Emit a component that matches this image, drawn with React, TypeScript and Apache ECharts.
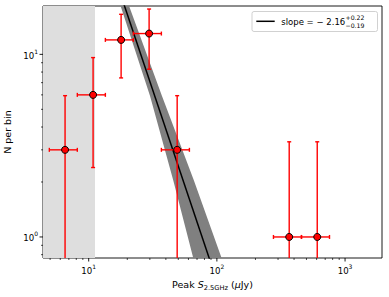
import React, { useEffect, useRef } from 'react';
import * as echarts from 'echarts';

// ---- data ----
const binCenters = [6.54, 10.82, 17.9, 29.6, 49.0, 366.7, 606.7];
const binLow = [4.93, 8.15, 13.49, 22.3, 36.9, 276.3, 457.1];
const binHigh = [8.15, 13.49, 22.3, 36.9, 61.04, 457.1, 756.2];
const counts = [3, 6, 12, 13, 3, 1, 1];
const countHigh = [5.94, 9.6, 16.57, 17.71, 5.94, 3.32, 3.32];
// lower bounds that fall below the axis (≤ 0 for N = 1) are kept as tiny positive values
const countLow = [0.064, 2.4, 7.43, 8.29, 0.064, 0.001, 0.001];

const completenessLimit = 11.2; // shaded region up to this flux

// drawn fit line
const fitSlope = -2.09;
const fitNorm = 70.6; // N per bin at 10 µJy
const fitRange = [12, 150];

// uncertainty band edges (steep / shallow sides)
const bandSteepX = [14.16, 17.74, 30.1, 45.71, 65.4, 75.7];
const bandSteepY = [28.9, 18.38, 5.91, 2.04, 0.767, 0.513];
const bandShallowX = [15.96, 20.66, 37.3, 66.2, 108.8, 133.4];
const bandShallowY = [28.9, 18.38, 5.91, 2.04, 0.767, 0.513];

const xMajorTicks = [10, 100, 1000];
const xMinorTicks = [5, 6, 7, 8, 9, 20, 30, 40, 50, 60, 70, 80, 90, 200, 300, 400, 500, 600, 700, 800, 900];
const yMajorTicks = [1, 10];
const yMinorTicks = [0.8, 0.9, 2, 3, 4, 5, 6, 7, 8, 9];

const xMin = 4.4;
const xMax = 1942;
const yMin = 0.767;
const yMax = 18.4;

const FONT = 'DejaVu Sans';

function powLabel(v: number) {
  const l = Math.log10(v);
  const e = Math.round(l);
  if (Math.abs(l - e) > 1e-6) return '';
  return `{b|10}{s|${e}}`;
}

export default function App() {
  const ref = useRef<HTMLDivElement>(null);
  useEffect(() => {
    if (!ref.current) return;
    document.body.style.margin = '0';
    const chart = echarts.init(ref.current, null, { renderer: 'svg' });

    const fitData = fitRange.map((x) => [x, fitNorm * Math.pow(x / 10, fitSlope)]);
    const errData = binCenters.map((x, i) => [x, counts[i], binLow[i], binHigh[i], countLow[i], countHigh[i]]);
    const scatterData = binCenters.map((x, i) => [x, counts[i]]);

    const tickLabelRich = {
      b: { fontFamily: FONT, fontSize: 8.6, color: '#000', lineHeight: 12, verticalAlign: 'bottom' },
      s: { fontFamily: FONT, fontSize: 6, color: '#000', lineHeight: 12, verticalAlign: 'top' },
    };

    const option: any = {
      animation: false,
      grid: {
        left: 43,
        top: 6,
        right: 7,
        bottom: 39,
        show: true,
        borderColor: '#000',
        borderWidth: 0.9,
        backgroundColor: 'transparent',
        outerBoundsMode: 'none',
      },
      xAxis: {
        type: 'log',
        min: xMin,
        max: xMax,
        axisLine: { show: false },
        axisTick: { show: false },
        splitLine: { show: false },
        minorTick: { show: false },
        axisLabel: {
          formatter: powLabel,
          margin: 5,
          rich: tickLabelRich,
          showMinLabel: false,
          showMaxLabel: false,
        },
        name: 'Peak {i|S}{sub|2.5GHz} ({i|μ}Jy)',
        nameLocation: 'middle',
        nameGap: 19,
        nameTextStyle: {
          fontFamily: FONT,
          fontSize: 9.5,
          color: '#000',
          verticalAlign: 'top',
          rich: {
            i: { fontFamily: FONT, fontSize: 9.5, fontStyle: 'italic', color: '#000', lineHeight: 13, verticalAlign: 'middle' },
            sub: { fontFamily: FONT, fontSize: 6.7, color: '#000', lineHeight: 13, verticalAlign: 'bottom' },
          },
        },
      },
      yAxis: {
        type: 'log',
        min: yMin,
        max: yMax,
        axisLine: { show: false },
        axisTick: { show: false },
        splitLine: { show: false },
        minorTick: { show: false },
        axisLabel: {
          formatter: powLabel,
          margin: 5,
          rich: tickLabelRich,
          showMinLabel: false,
          showMaxLabel: false,
        },
        name: 'N per bin',
        nameLocation: 'middle',
        nameGap: 25,
        nameTextStyle: { fontFamily: FONT, fontSize: 9.5, color: '#000' },
      },
      series: [
        {
          name: 'shade',
          type: 'custom',
          z: 1,
          silent: true,
          clip: true,
          data: [[completenessLimit, 1]],
          renderItem: (params: any, api: any) => {
            const cs = params.coordSys;
            const px = api.coord([api.value(0), 1])[0];
            return {
              type: 'rect',
              shape: { x: cs.x, y: cs.y, width: px - cs.x, height: cs.height },
              style: { fill: '#dedede' },
            };
          },
        },
        {
          name: 'band',
          type: 'custom',
          z: 2,
          silent: true,
          clip: true,
          data: [[20, 5]],
          renderItem: (params: any, api: any) => {
            const pts: number[][] = [];
            for (let i = 0; i < bandSteepX.length; i++) pts.push(api.coord([bandSteepX[i], bandSteepY[i]]));
            for (let i = bandShallowX.length - 1; i >= 0; i--) pts.push(api.coord([bandShallowX[i], bandShallowY[i]]));
            return { type: 'polygon', shape: { points: pts }, style: { fill: '#808080' } };
          },
        },
        {
          name: 'fit',
          type: 'line',
          z: 3,
          silent: true,
          showSymbol: false,
          data: fitData,
          lineStyle: { color: '#000', width: 1.5 },
        },
        {
          name: 'errors',
          type: 'custom',
          z: 4,
          silent: true,
          clip: true,
          data: errData,
          encode: { x: 0, y: 1 },
          renderItem: (params: any, api: any) => {
            const x = api.value(0), y = api.value(1);
            const c = api.coord([x, y]);
            const pl = api.coord([api.value(2), y]);
            const ph = api.coord([api.value(3), y]);
            const pb = api.coord([x, api.value(4)]);
            const pt = api.coord([x, api.value(5)]);
            const style = { stroke: '#ff0000', lineWidth: 1.4 };
            const cap = 2;
            return {
              type: 'group',
              children: [
                { type: 'line', shape: { x1: pl[0], y1: c[1], x2: ph[0], y2: c[1] }, style },
                { type: 'line', shape: { x1: c[0], y1: pb[1], x2: c[0], y2: pt[1] }, style },
                { type: 'line', shape: { x1: pl[0], y1: c[1] - cap, x2: pl[0], y2: c[1] + cap }, style },
                { type: 'line', shape: { x1: ph[0], y1: c[1] - cap, x2: ph[0], y2: c[1] + cap }, style },
                { type: 'line', shape: { x1: c[0] - cap, y1: pt[1], x2: c[0] + cap, y2: pt[1] }, style },
                { type: 'line', shape: { x1: c[0] - cap, y1: pb[1], x2: c[0] + cap, y2: pb[1] }, style },
              ],
            };
          },
        },
        {
          name: 'points',
          type: 'scatter',
          z: 5,
          silent: true,
          symbol: 'circle',
          symbolSize: 7,
          data: scatterData,
          itemStyle: { color: '#ff0000', borderColor: '#000', borderWidth: 1, opacity: 1 },
        },
        {
          name: 'xticks',
          type: 'custom',
          z: 6,
          silent: true,
          data: [...xMajorTicks.map((v) => [v, 1, 1]), ...xMinorTicks.map((v) => [v, 1, 0])],
          renderItem: (params: any, api: any) => {
            const cs = params.coordSys;
            const px = api.coord([api.value(0), 1])[0];
            const major = api.value(2) === 1;
            const b = cs.y + cs.height;
            return {
              type: 'line',
              shape: { x1: px, y1: b, x2: px, y2: b + (major ? 3.5 : 2) },
              style: { stroke: '#000', lineWidth: major ? 0.9 : 0.7 },
            };
          },
        },
        {
          name: 'yticks',
          type: 'custom',
          z: 6,
          silent: true,
          data: [...yMajorTicks.map((v) => [10, v, 1]), ...yMinorTicks.map((v) => [10, v, 0])],
          renderItem: (params: any, api: any) => {
            const cs = params.coordSys;
            const py = api.coord([10, api.value(1)])[1];
            const major = api.value(2) === 1;
            return {
              type: 'line',
              shape: { x1: cs.x, y1: py, x2: cs.x - (major ? 3.5 : 2), y2: py },
              style: { stroke: '#000', lineWidth: major ? 0.9 : 0.7 },
            };
          },
        },
      ],
      graphic: [
        {
          type: 'rect',
          z: 100,
          shape: { x: 252, y: 11.5, width: 125.5, height: 20, r: 2 },
          style: { fill: 'rgba(255,255,255,0.85)', stroke: '#cccccc', lineWidth: 0.9 },
        },
        {
          type: 'line',
          z: 101,
          shape: { x1: 256.3, y1: 21.3, x2: 274.7, y2: 21.3 },
          style: { stroke: '#000', lineWidth: 1.5 },
        },
        {
          type: 'text',
          z: 101,
          x: 281.3,
          y: 21.5,
          style: { text: 'slope = − 2.16', fontFamily: FONT, fontSize: 8.5, fill: '#000', verticalAlign: 'middle', align: 'left' },
        },
        {
          type: 'text',
          z: 101,
          x: 345.5,
          y: 17,
          style: { text: '+0.22', fontFamily: FONT, fontSize: 6.2, fill: '#000', verticalAlign: 'middle', align: 'left' },
        },
        {
          type: 'text',
          z: 101,
          x: 345.5,
          y: 25,
          style: { text: '−0.19', fontFamily: FONT, fontSize: 6.2, fill: '#000', verticalAlign: 'middle', align: 'left' },
        },
      ],
    };

    chart.setOption(option);
    return () => chart.dispose();
  }, []);

  return <div ref={ref} style={{ position: 'absolute', left: 0, top: 0, width: 389, height: 297 }} />;
}
